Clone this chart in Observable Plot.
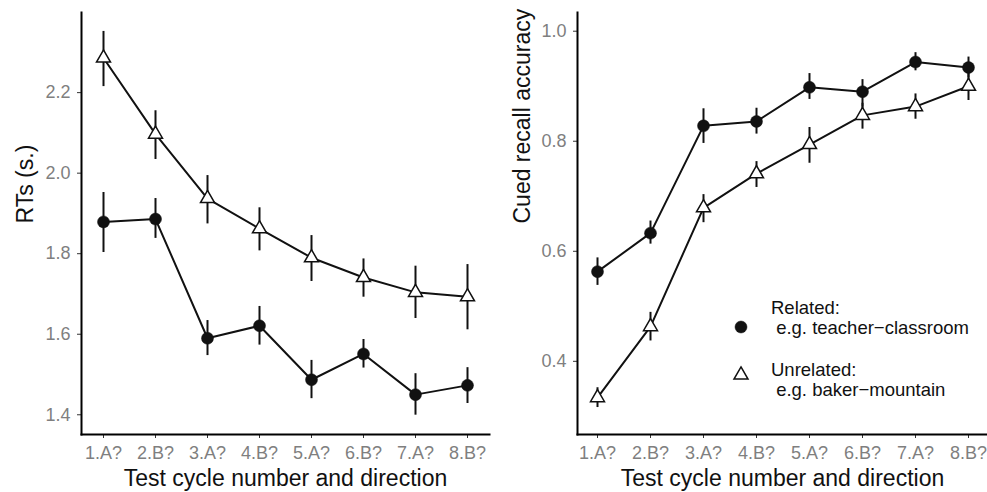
<!DOCTYPE html>
<html>
<head>
<meta charset="utf-8">
<script src="https://cdn.jsdelivr.net/npm/d3@7"></script>
<script src="https://cdn.jsdelivr.net/npm/@observablehq/plot@0.6"></script>
<style>
  html, body { margin: 0; padding: 0; background: #fff; }
  #wrap { position: relative; width: 987px; height: 492px; display: flex; font-family: "Liberation Sans", Arial, sans-serif; }
  #wrap svg { display: block; }
  .legend-text { position: absolute; left: 771px; font-size: 18.5px; line-height: 20px; white-space: pre; color: #111; font-family: "Liberation Sans", Arial, sans-serif; }
  .legend-key { position: absolute; width: 20px; height: 20px; overflow: visible; }
</style>
</head>
<body>
<div id="wrap"></div>
<script>
// ---- Data ----
const cycles = ["1.A?", "2.B?", "3.A?", "4.B?", "5.A?", "6.B?", "7.A?", "8.B?"];

// Left panel: RTs (s.)
const rtRelated      = [1.879, 1.886, 1.590, 1.621, 1.487, 1.551, 1.450, 1.473];
const rtRelatedLo    = [1.803, 1.838, 1.547, 1.573, 1.440, 1.516, 1.399, 1.428];
const rtRelatedHi    = [1.952, 1.937, 1.634, 1.669, 1.535, 1.587, 1.502, 1.517];
const rtUnrelated    = [2.286, 2.097, 1.937, 1.862, 1.790, 1.741, 1.704, 1.693];
const rtUnrelatedLo  = [2.215, 2.034, 1.874, 1.807, 1.731, 1.692, 1.639, 1.611];
const rtUnrelatedHi  = [2.352, 2.155, 1.994, 1.914, 1.845, 1.787, 1.769, 1.773];

// Right panel: Cued recall accuracy
const accRelated     = [0.563, 0.633, 0.828, 0.836, 0.898, 0.890, 0.944, 0.934];
const accRelatedLo   = [0.538, 0.613, 0.796, 0.813, 0.876, 0.862, 0.928, 0.915];
const accRelatedHi   = [0.588, 0.655, 0.859, 0.860, 0.923, 0.912, 0.961, 0.953];
const accUnrelated   = [0.334, 0.463, 0.679, 0.741, 0.794, 0.847, 0.863, 0.900];
const accUnrelatedLo = [0.316, 0.437, 0.652, 0.716, 0.760, 0.822, 0.840, 0.874];
const accUnrelatedHi = [0.352, 0.489, 0.703, 0.763, 0.825, 0.869, 0.886, 0.923];

const rtTicks  = [1.4, 1.6, 1.8, 2.0, 2.2];
const accTicks = [0.4, 0.6, 0.8, 1.0];

const legendLabels = ["Related:\n e.g. teacher\u2212classroom", "Unrelated:\n e.g. baker\u2212mountain"];
const xTitle = "Test cycle number and direction";

// ---- Build tables ----
function table(vals, lo, hi) {
  return cycles.map((c, i) => ({cycle: c, v: vals[i], lo: lo[i], hi: hi[i]}));
}

const INK = "#111";
const FONT = "Liberation Sans, Arial, sans-serif";
const fmt = d3.format(".1f");

function panel({width, marginLeft, marginRight, domain, ticks, yTitle, yTitleDx, rel, unrel}) {
  const svg = Plot.plot({
    width, height: 492,
    marginTop: 12, marginBottom: 58, marginLeft, marginRight,
    style: {fontFamily: FONT, background: "white", overflow: "visible"},
    x: {type: "point", domain: cycles, padding: 0.35, label: null},
    y: {domain, label: null},
    marks: [
      Plot.axisX({tickSize: 4, tickPadding: 8, fontSize: 18, stroke: "#333", fill: "#7f7f7f", label: null}),
      Plot.axisY({ticks, tickFormat: fmt, tickSize: 4, tickPadding: 7, fontSize: 18, stroke: "#333", fill: "#7f7f7f", label: null}),
      Plot.frame({anchor: "left", stroke: "#000", strokeWidth: 2}),
      Plot.frame({anchor: "bottom", stroke: "#000", strokeWidth: 2}),
      // error bars
      Plot.ruleX(rel,   {x: "cycle", y1: "lo", y2: "hi", stroke: INK, strokeWidth: 2}),
      Plot.ruleX(unrel, {x: "cycle", y1: "lo", y2: "hi", stroke: INK, strokeWidth: 2}),
      // lines
      Plot.line(rel,   {x: "cycle", y: "v", stroke: INK, strokeWidth: 2}),
      Plot.line(unrel, {x: "cycle", y: "v", stroke: INK, strokeWidth: 2}),
      // points
      Plot.dot(rel,   {x: "cycle", y: "v", r: 6, fill: INK, stroke: INK, strokeWidth: 0.5, symbol: "circle"}),
      Plot.dot(unrel, {x: "cycle", y: "v", r: 5.2, fill: "white", stroke: INK, strokeWidth: 1.5, symbol: "triangle"}),
      // axis titles
      Plot.text([yTitle], {frameAnchor: "left", rotate: -90, dx: yTitleDx, fontSize: 23, fill: INK}),
      Plot.text([xTitle], {frameAnchor: "bottom", dy: 51, fontSize: 23, fill: INK})
    ]
  });
  // tick labels: size and colour (matched by their text)
  const tickTexts = new Set([...cycles, ...ticks.map(fmt)]);
  d3.select(svg).selectAll("text").each(function() {
    if (tickTexts.has(this.textContent.trim())) {
      d3.select(this).attr("font-size", 18).style("font-size", "18px").attr("fill", "#7f7f7f");
    }
  });
  return svg;
}

const left = panel({
  width: 494, marginLeft: 81, marginRight: 5,
  domain: [1.351, 2.399], ticks: rtTicks, yTitle: "RTs (s.)", yTitleDx: -56,
  rel: table(rtRelated, rtRelatedLo, rtRelatedHi),
  unrel: table(rtUnrelated, rtUnrelatedLo, rtUnrelatedHi)
});
const right = panel({
  width: 493, marginLeft: 83, marginRight: 0,
  domain: [0.267, 1.034], ticks: accTicks, yTitle: "Cued recall accuracy", yTitleDx: -55,
  rel: table(accRelated, accRelatedLo, accRelatedHi),
  unrel: table(accUnrelated, accUnrelatedLo, accUnrelatedHi)
});

const wrap = document.getElementById("wrap");
wrap.appendChild(left);
wrap.appendChild(right);

// ---- Legend (HTML overlay on the right panel) ----
const keys = [
  {label: legendLabels[0], textTop: 298, cx: 741, cy: 327.3, shape: "circle"},
  {label: legendLabels[1], textTop: 360.3, cx: 741, cy: 375, shape: "triangle"}
];
keys.forEach(k => {
  const t = document.createElement("div");
  t.className = "legend-text";
  t.style.top = k.textTop + "px";
  t.textContent = k.label;
  wrap.appendChild(t);
  const svg = d3.create("svg").attr("class", "legend-key")
    .style("left", (k.cx - 10) + "px").style("top", (k.cy - 10) + "px")
    .attr("width", 20).attr("height", 20);
  const sym = k.shape === "circle" ? d3.symbolCircle : d3.symbolTriangle;
  const r = k.shape === "circle" ? 6 : 5.2;
  svg.append("path")
    .attr("transform", "translate(10,10)")
    .attr("d", d3.symbol(sym, Math.PI * r * r)())
    .attr("fill", k.shape === "circle" ? INK : "white")
    .attr("stroke", INK)
    .attr("stroke-width", k.shape === "circle" ? 0.5 : 1.5);
  wrap.appendChild(svg.node());
});
</script>
</body>
</html>
